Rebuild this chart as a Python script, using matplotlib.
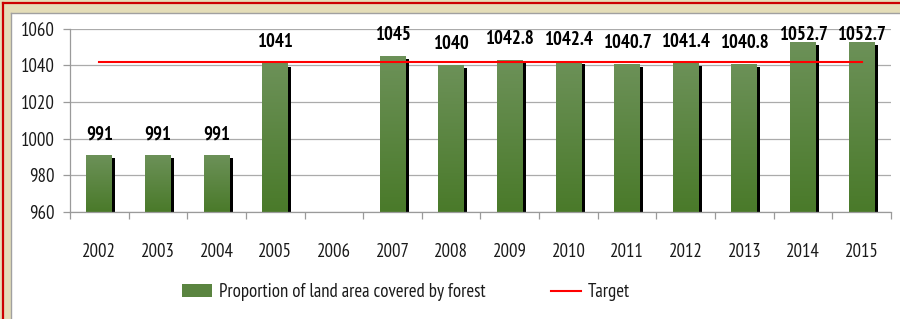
import numpy as np
import matplotlib
matplotlib.use("Agg")
import matplotlib.pyplot as plt
import matplotlib.patheffects as pe
from matplotlib.patches import Rectangle
from matplotlib.lines import Line2D

plt.rcParams['font.family'] = ['PT Sans Narrow', 'Carlito', 'Lato', 'DejaVu Sans']

# data
years = ['2002', '2003', '2004', '2005', '2006', '2007', '2008',
         '2009', '2010', '2011', '2012', '2013', '2014', '2015']
forest = [991, 991, 991, 1041, np.nan, 1045, 1040,
          1042.8, 1042.4, 1040.7, 1041.4, 1040.8, 1052.7, 1052.7]
labels = ['991', '991', '991', '1041', '', '1045', '1040',
          '1042.8', '1042.4', '1040.7', '1041.4', '1040.8', '1052.7', '1052.7']
target = [1042, 1042, 1042, 1042, 1042, 1042, 1042,
          1042, 1042, 1042, 1042, 1042, 1042, 1042]

W, H = 900, 319
fig = plt.figure(figsize=(W / 100, H / 100), dpi=100)
fig.patch.set_facecolor('#E4DDB8')

# frame: red outer rule, grey inner edge, white panel
fig.add_artist(Rectangle((11 / W, 0), 1, (H - 13) / H, transform=fig.transFigure,
                         facecolor='white', edgecolor='none', zorder=0))
fig.add_artist(Line2D([2.5 / W, 2.5 / W], [0, 1 - 2.5 / H], transform=fig.transFigure,
                      color='#CC0000', lw=1.6))
fig.add_artist(Line2D([2.5 / W, 1], [1 - 2.5 / H, 1 - 2.5 / H], transform=fig.transFigure,
                      color='#CC0000', lw=1.6))
fig.add_artist(Line2D([10.5 / W, 10.5 / W], [0, 1 - 13 / H], transform=fig.transFigure,
                      color='#A0A0A0', lw=1.0))
fig.add_artist(Line2D([10.5 / W, 1], [1 - 13 / H, 1 - 13 / H], transform=fig.transFigure,
                      color='#A0A0A0', lw=1.0))

ax = fig.add_axes([70 / W, 1 - 212 / H, 821 / W, 183.5 / H])
ax.set_facecolor('white')
x = np.arange(len(years))

bars = ax.bar(x, forest, width=0.44, bottom=0, color='#5A8440', zorder=2)

# gradient fill + drop shadow
grad = np.linspace(0, 1, 64).reshape(-1, 1)
cmap = matplotlib.colors.LinearSegmentedColormap.from_list('g', ['#4A7A2A', '#6C9158'])
for b in bars:
    h = b.get_height()
    if np.isnan(h):
        continue
    b.set_path_effects([pe.SimplePatchShadow(offset=(2.3, -2.3), shadow_rgbFace='black', alpha=1.0),
                        pe.Normal()])
    x0 = b.get_x()
    im = ax.imshow(grad, cmap=cmap, aspect='auto', origin='lower',
                   extent=[x0, x0 + b.get_width(), 960, h], zorder=2.1)
    im.set_clip_path(b)
ax.set_ylim(960, 1060)
ax.set_xlim(-0.5, len(years) - 0.5)

ax.plot(x, target, color='#FF0000', lw=1.5, zorder=3, label='Target')

# value labels (kept inside plot area like Excel)
for xi, v, t in zip(x, forest, labels):
    if np.isnan(v):
        continue
    ax.text(xi, min(v + 11.4, 1056.7), t, ha='center', va='center',
            fontsize=13.5, fontweight='bold', color='black', zorder=4)

ax.set_yticks([960, 980, 1000, 1020, 1040, 1060])
ax.yaxis.grid(True, color='#ABABAB', lw=0.9)
ax.set_axisbelow(True)
for s in ['top', 'right']:
    ax.spines[s].set_visible(False)
for s in ['left', 'bottom']:
    ax.spines[s].set_color('#9A9A9A')
    ax.spines[s].set_linewidth(0.9)

ax.set_xticks(x)
ax.set_xticklabels(years)
ax.set_xticks(np.arange(-0.5, len(years)), minor=True)
ax.tick_params(axis='x', which='major', length=0, pad=22, labelsize=13.5, labelcolor='#1A1A1A')
ax.tick_params(axis='x', which='minor', length=5, color='#9A9A9A', width=0.9)
ax.tick_params(axis='y', length=5, color='#9A9A9A', width=0.9, pad=6,
               labelsize=13.5, labelcolor='#1A1A1A')

handles = [Rectangle((0, 0), 1, 1, facecolor='#5A8440'),
           Line2D([], [], color='#FF0000', lw=1.5)]
fig.legend(handles, ['Proportion of land area covered by forest', 'Target'],
           loc='center', bbox_to_anchor=(406 / W, 1 - 292 / H), ncol=2, frameon=False,
           fontsize=13.5, handlelength=1.6, handleheight=0.65, handletextpad=0.35,
           columnspacing=3.5, labelcolor='#1A1A1A')

fig.savefig('out.png', dpi=100, facecolor=fig.get_facecolor())
